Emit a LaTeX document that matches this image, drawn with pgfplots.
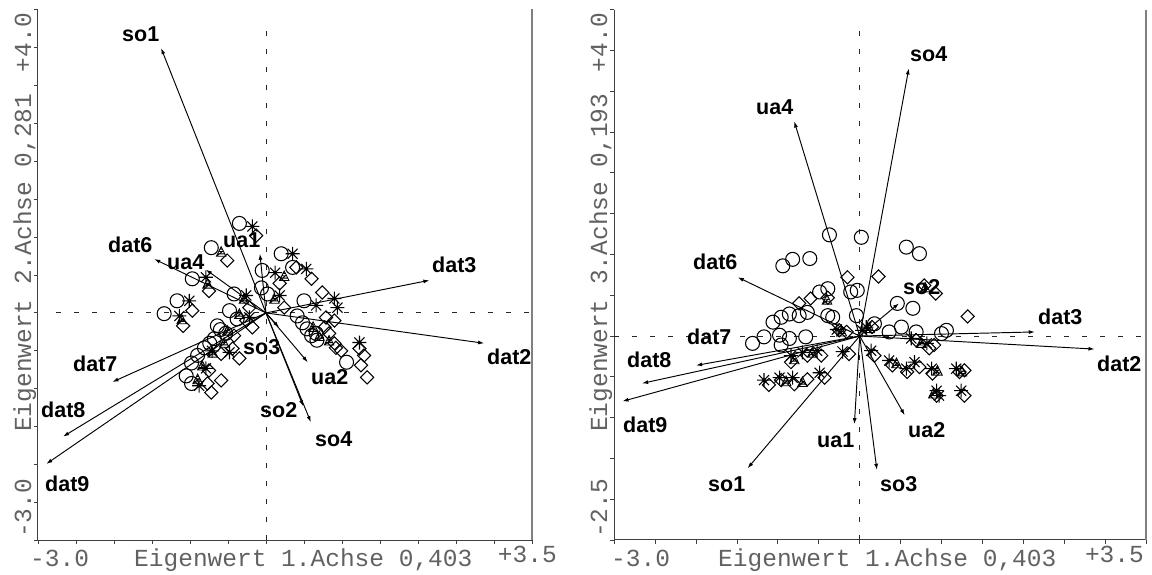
\documentclass[border=0pt]{standalone}
\usepackage{fontspec}
\usepackage{pgfplots}
\pgfplotsset{compat=1.18}
\usetikzlibrary{arrows.meta}
\newfontfamily\monof{Liberation Mono}
\newfontfamily\sansf{Liberation Sans}

\pgfdeclareplotmark{ast8}{%
  \pgfpathmoveto{\pgfqpoint{-\pgfplotmarksize}{0pt}}\pgfpathlineto{\pgfqpoint{\pgfplotmarksize}{0pt}}%
  \pgfpathmoveto{\pgfqpoint{0pt}{-\pgfplotmarksize}}\pgfpathlineto{\pgfqpoint{0pt}{\pgfplotmarksize}}%
  \pgfpathmoveto{\pgfqpoint{-.72\pgfplotmarksize}{-.72\pgfplotmarksize}}\pgfpathlineto{\pgfqpoint{.72\pgfplotmarksize}{.72\pgfplotmarksize}}%
  \pgfpathmoveto{\pgfqpoint{-.72\pgfplotmarksize}{.72\pgfplotmarksize}}\pgfpathlineto{\pgfqpoint{.72\pgfplotmarksize}{-.72\pgfplotmarksize}}%
  \pgfusepathqstroke}
\pgfdeclareplotmark{dia}{%
  \pgfpathmoveto{\pgfqpoint{0pt}{\pgfplotmarksize}}%
  \pgfpathlineto{\pgfqpoint{\pgfplotmarksize}{0pt}}%
  \pgfpathlineto{\pgfqpoint{0pt}{-\pgfplotmarksize}}%
  \pgfpathlineto{\pgfqpoint{-\pgfplotmarksize}{0pt}}%
  \pgfpathclose\pgfusepathqstroke}
\pgfdeclareplotmark{hat}{%
  \pgfpathmoveto{\pgfqpoint{0pt}{\pgfplotmarksize}}%
  \pgfpathlineto{\pgfqpoint{\pgfplotmarksize}{-\pgfplotmarksize}}%
  \pgfpathlineto{\pgfqpoint{-\pgfplotmarksize}{-\pgfplotmarksize}}%
  \pgfpathclose
  \pgfpathmoveto{\pgfqpoint{-.75\pgfplotmarksize}{-.5\pgfplotmarksize}}\pgfpathlineto{\pgfqpoint{.75\pgfplotmarksize}{-.5\pgfplotmarksize}}%
  \pgfpathmoveto{\pgfqpoint{-.5\pgfplotmarksize}{0pt}}\pgfpathlineto{\pgfqpoint{.5\pgfplotmarksize}{0pt}}%
  \pgfpathmoveto{\pgfqpoint{-.25\pgfplotmarksize}{.5\pgfplotmarksize}}\pgfpathlineto{\pgfqpoint{.25\pgfplotmarksize}{.5\pgfplotmarksize}}%
  \pgfpathmoveto{\pgfqpoint{-\pgfplotmarksize}{-\pgfplotmarksize}}\pgfpathlineto{\pgfqpoint{.5\pgfplotmarksize}{.2\pgfplotmarksize}}%
  \pgfusepathqstroke}

\tikzset{
  dashl/.style={black!85, line width=1pt, dash pattern=on 5pt off 13pt},
  lab/.style={font=\sansf\bfseries\fontsize{21.5}{21.5}\selectfont, inner sep=0pt, text=black},
  axt/.style={font=\monof\fontsize{24.5}{24.5}\selectfont, inner sep=0pt, text=black!62},
}
\pgfplotsset{
  biplot/.style={scale only axis, axis x line*=bottom, axis y line*=left,
    xmin=-3, xmax=3.5, xtick={-3,-2.5,...,3.5}, xticklabels={}, yticklabels={},
    tick align=outside, major tick length=4pt,
    tick style={black!75, line width=0.9pt},
    axis line style={black!75, line width=1pt}, clip=false},
  circ/.style={only marks, mark=o, mark size=7pt, mark options={line width=1.05pt, black}},
  star8/.style={only marks, mark=ast8, mark size=7pt, mark options={line width=1.05pt, black}},
  diam/.style={only marks, mark=dia, mark size=6.6pt, mark options={line width=1.05pt, black}},
  hatc/.style={only marks, mark=hat, mark size=4.8pt, mark options={line width=0.85pt, black}},
  arr/.style={black, line width=0.95pt, -{Latex[length=6pt,width=4pt]}},
}

\begin{document}
\begin{tikzpicture}
\useasboundingbox (0,0) rectangle (1152pt,575pt);

% ---------------- left panel ----------------
\begin{axis}[biplot, at={(38pt,34.5pt)}, anchor=south west, width=494pt, height=531pt,
  ymin=-3, ymax=4, ytick={-3,-2.5,...,4}]
\draw[dashl] (axis cs:0,-3) -- (axis cs:0,3.79);
\draw[dashl] (axis cs:-2.76,0) -- (axis cs:3.5,0);
\draw[gray, line width=1.6pt] (rel axis cs:1,0) -- (rel axis cs:1,1);
\addplot[circ] table {
x y
-0.35 1.18
-0.72 0.86
-0.97 0.45
-1.17 0.16
-1.34 -0.01
-0.42 0.25
-0.48 0.03
-0.38 -0.08
-0.64 -0.17
-0.53 -0.27
-0.68 -0.34
-0.81 -0.46
-0.90 -0.56
-0.98 -0.66
-1.05 -0.83
-0.98 -0.93
-0.60 -0.22
-0.74 -0.40
-0.05 0.56
-0.06 0.33
0.02 0.25
0.20 0.78
0.35 0.60
0.50 0.16
0.41 -0.04
0.48 -0.13
0.54 -0.21
0.66 -0.27
0.67 -0.36
0.60 -0.30
1.06 -0.65
};
\addplot[hatc] table {
x y
-0.59 0.81
-0.77 0.39
-1.11 -0.08
-0.29 0.19
-0.35 -0.01
-0.51 -0.23
-0.55 -0.39
-0.70 -0.52
-0.84 -0.69
-0.90 -0.87
0.11 0.19
0.24 0.49
0.70 -0.30
0.83 -0.36
0.62 -0.18
};
\addplot[star8] table {
x y
-0.18 1.14
-0.79 0.47
-1.01 0.16
-1.14 -0.04
-0.71 -0.50
-0.88 -0.96
-0.48 -0.52
-0.79 -0.73
-0.22 -0.06
-0.26 0.23
0.12 0.53
0.18 0.23
0.35 0.78
0.53 0.58
0.66 0.10
0.90 0.19
0.94 0.07
1.23 -0.39
};
\addplot[diam] table {
x y
-0.13 1.02
-0.51 0.69
-0.75 0.29
-0.97 0.03
-1.09 -0.17
-0.22 0.07
-0.26 -0.10
-0.18 -0.19
-0.42 -0.30
-0.44 -0.47
-0.59 -0.54
-0.35 -0.60
-0.75 -0.76
-0.77 -0.93
-0.59 -0.89
-0.72 -1.05
0.18 0.39
0.24 0.07
0.40 0.60
0.60 0.45
0.79 -0.06
0.74 0.27
0.90 -0.10
0.77 -0.19
0.83 -0.27
0.92 -0.46
0.99 -0.50
0.90 -0.40
1.23 -0.47
1.29 -0.56
1.25 -0.69
1.33 -0.85
};
\addplot[arr, quiver={u=\thisrow{u}, v=\thisrow{v}}] table[x=x, y=y] {
x y u v
0 0 -1.38 3.49
0 0 -1.47 0.71
0 0 -0.79 0.57
0 0 -0.08 0.78
0 0 2.15 0.43
0 0 2.87 -0.40
0 0 0.55 -0.65
0 0 0.59 -1.44
0 0 0.49 -1.23
0 0 0.17 -0.19
0 0 -2.02 -0.91
0 0 -2.67 -1.63
0 0 -2.89 -1.99
};
\end{axis}

% ---------------- right panel ----------------
\begin{axis}[biplot, at={(614.3pt,35pt)}, anchor=south west, width=531.7pt, height=530.3pt,
  ymin=-2.5, ymax=4, ytick={-2.5,-2,...,4}]
\draw[dashl] (axis cs:0,-2.5) -- (axis cs:0,3.81);
\draw[dashl] (axis cs:-3,0) -- (axis cs:3.5,0);
\draw[gray, line width=1.6pt] (rel axis cs:1,0) -- (rel axis cs:1,1);
\addplot[circ] table {
x y
-0.37 1.24
0.02 1.21
-0.94 0.86
-0.82 0.94
-0.61 0.95
-0.49 0.54
-0.39 0.58
-0.11 0.54
-0.03 0.56
-1.06 0.17
-0.96 0.23
-0.86 0.27
-0.74 0.25
-0.64 0.29
-0.39 0.25
-0.33 0.23
-0.04 0.25
-1.31 -0.09
-1.17 -0.01
-0.98 0.01
-0.96 -0.11
-0.86 -0.03
-0.66 -0.01
0.57 1.09
0.73 1.01
0.46 0.40
0.65 0.34
0.18 0.15
0.36 0.05
0.51 0.11
0.69 0.05
1.00 0.03
1.06 0.07
};
\addplot[hatc] table {
x y
-0.80 -0.28
-0.58 -0.20
-0.90 -0.55
-0.70 -0.56
-0.22 0.06
0.12 0.10
0.45 -0.33
0.75 -0.08
0.95 -0.42
1.25 -0.43
0.90 -0.70
-0.40 0.45
0.80 0.60
};
\addplot[star8] table {
x y
-1.17 -0.54
-0.98 -0.51
-0.82 -0.51
-0.49 -0.45
-0.84 -0.24
-0.70 -0.20
-0.52 -0.18
-0.28 0.08
-0.21 -0.19
0.03 0.07
0.08 0.11
0.14 -0.18
0.36 -0.30
0.57 -0.40
0.67 -0.32
0.88 -0.40
1.18 -0.40
0.94 -0.67
0.97 -0.73
1.24 -0.67
0.63 -0.03
0.82 -0.09
};
\addplot[diam] table {
x y
-0.15 0.72
-0.74 0.40
-0.60 0.46
-0.39 0.47
0.23 0.73
0.79 0.62
0.93 0.52
1.32 0.24
-1.11 -0.60
-0.96 -0.54
-0.80 -0.59
-0.64 -0.53
-0.43 -0.51
-0.84 -0.32
-0.64 -0.24
-0.47 -0.24
-0.16 0.05
-0.25 0.07
-0.13 -0.22
0.18 -0.24
0.40 -0.36
0.58 -0.44
0.73 -0.38
0.89 -0.46
1.22 -0.44
1.28 -0.42
0.94 -0.73
1.28 -0.73
0.69 -0.05
0.85 -0.15
0.91 -0.11
0.15 0.11
};
\addplot[arr, quiver={u=\thisrow{u}, v=\thisrow{v}}] table[x=x, y=y] {
x y u v
0 0 0.60 3.28
0 0 -0.80 2.63
0 0 -1.49 0.72
0 0 0.48 0.40
0 0 2.14 0.05
0 0 2.87 -0.16
0 0 0.55 -0.97
0 0 0.21 -1.64
0 0 -0.065 -1.08
0 0 -1.37 -1.62
0 0 -2.00 -0.36
0 0 -2.66 -0.58
0 0 -2.90 -0.80
};
\end{axis}

% ---------------- arrow labels, left ----------------
\node[lab, anchor=base west] at (122pt,533pt) {so1};
\node[lab, anchor=base west] at (108pt,322pt) {dat6};
\node[lab, anchor=base west] at (167pt,305pt) {ua4};
\node[lab, anchor=base west] at (223pt,327pt) {ua1};
\node[lab, anchor=base west] at (432pt,302pt) {dat3};
\node[lab, anchor=base west] at (487pt,210pt) {dat2};
\node[lab, anchor=base west] at (311pt,190pt) {ua2};
\node[lab, anchor=base west] at (315pt,128pt) {so4};
\node[lab, anchor=base west] at (260pt,157pt) {so2};
\node[lab, anchor=base west] at (243pt,220pt) {so3};
\node[lab, anchor=base west] at (73pt,203pt) {dat7};
\node[lab, anchor=base west] at (41pt,157pt) {dat8};
\node[lab, anchor=base west] at (45pt,83pt) {dat9};
% ---------------- arrow labels, right ----------------
\node[lab, anchor=base west] at (910pt,513pt) {so4};
\node[lab, anchor=base west] at (756pt,460pt) {ua4};
\node[lab, anchor=base west] at (693pt,305pt) {dat6};
\node[lab, anchor=base west] at (903pt,280pt) {so2};
\node[lab, anchor=base west] at (1038pt,250pt) {dat3};
\node[lab, anchor=base west] at (1097pt,203pt) {dat2};
\node[lab, anchor=base west] at (908pt,137pt) {ua2};
\node[lab, anchor=base west] at (880pt,83pt) {so3};
\node[lab, anchor=base west] at (817pt,127pt) {ua1};
\node[lab, anchor=base west] at (708pt,83pt) {so1};
\node[lab, anchor=base west] at (687pt,230pt) {dat7};
\node[lab, anchor=base west] at (627pt,207pt) {dat8};
\node[lab, anchor=base west] at (623pt,142pt) {dat9};

% ---------------- axis texts ----------------
\node[axt, anchor=base west] at (30pt,8pt) {-3.0};
\node[axt, anchor=base west] at (134pt,8pt) {Eigenwert 1.Achse 0,403};
\node[axt, anchor=base east] at (557pt,12pt) {+3.5};
\node[axt, anchor=base west, rotate=90] at (31pt,37pt) {-3.0};
\node[axt, anchor=base west, rotate=90] at (31pt,143pt) {Eigenwert 2.Achse 0,281};
\node[axt, anchor=base east, rotate=90] at (31pt,562pt) {+4.0};

\node[axt, anchor=base west] at (611pt,8pt) {-3.0};
\node[axt, anchor=base west] at (718pt,8pt) {Eigenwert 1.Achse 0,403};
\node[axt, anchor=base east] at (1144pt,12pt) {+3.5};
\node[axt, anchor=base west, rotate=90] at (607pt,37pt) {-2.5};
\node[axt, anchor=base west, rotate=90] at (607pt,143pt) {Eigenwert 3.Achse 0,193};
\node[axt, anchor=base east, rotate=90] at (607pt,562pt) {+4.0};
\end{tikzpicture}
\end{document}
